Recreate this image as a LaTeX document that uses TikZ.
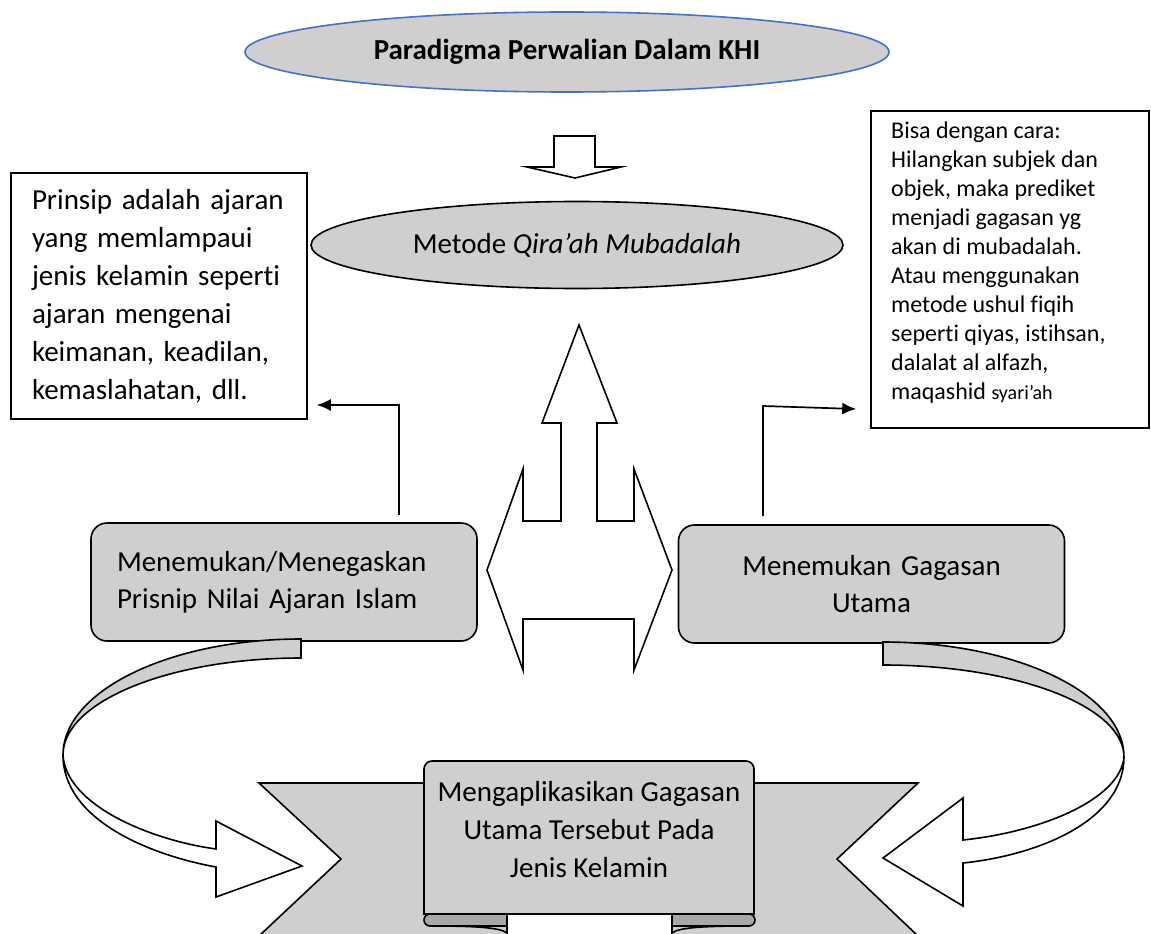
\documentclass[tikz,border=0pt]{standalone}
\usepackage{fontspec}
\setmainfont{Carlito}[Ligatures=NoCommon]
\usetikzlibrary{shapes.geometric,arrows.meta}
\definecolor{boxgray}{HTML}{D0CECE}
\definecolor{foldgray}{HTML}{A9A7A7}
\definecolor{wordblue}{HTML}{4472C4}
\tikzset{
  outl/.style={draw=black, line width=1.6pt, line join=miter},
  grayshape/.style={outl, fill=boxgray},
  whiteshape/.style={outl, fill=white},
  bigtext/.style={font=\fontsize{29}{38}\selectfont},
  smalltext/.style={font=\fontsize{24}{29}\selectfont},
  roundbox/.style={grayshape, rounded corners=16pt, minimum width=386pt, minimum height=118pt, font=\fontsize{29}{37}\selectfont},
  conn/.style={draw=black, line width=1.7pt, -{Latex[length=14pt,width=12pt]}},
}
\begin{document}
\begin{tikzpicture}[x=1pt,y=-1pt]
\useasboundingbox (0,0) rectangle (1151,934);
\clip (0,0) rectangle (1151,934);

% ---- bottom ribbon ----
\path[grayshape] (259,783) -- (507,783) -- (507,936) -- (259,936) -- (341,859) -- cycle;
\path[grayshape] (672,783) -- (918,783) -- (837,859) -- (918,936) -- (672,936) -- cycle;
\path[grayshape] (424,914) -- (424,769) arc[start angle=180,end angle=90,radius=8pt]
  -- (746,761) arc[start angle=90,end angle=0,radius=8pt] -- (754,914) -- cycle;
\path[outl, fill=foldgray] (507,914) -- (430,914) arc[start angle=90,end angle=270,radius=6pt]
  -- (507,926) -- cycle;
\path[outl, fill=foldgray] (672,914) -- (749,914) arc[start angle=90,end angle=-90,radius=6pt]
  -- (672,926) -- cycle;
\draw[outl] (430,926) .. controls (470,926) and (500,927) .. (507,933);
\draw[outl] (749,926) .. controls (709,926) and (679,927) .. (672,933);
\node[bigtext, align=center] (aplikasi) at (589,830)
  {Mengaplikasikan Gagasan\\Utama Tersebut Pada\\Jenis Kelamin};

% ---- text boxes ----
\node[outl, minimum width=296pt, minimum height=246pt, text width=254pt, inner xsep=21pt,
  align=left, bigtext] (prinsip) at (159,296)
  {Prinsip adalah ajaran\\yang memlampaui\\jenis kelamin seperti\\ajaran mengenai\\keimanan, keadilan,\\kemaslahatan, dll.};
\node[outl, minimum width=278pt, minimum height=317pt] (cara) at (1010,269.5) {};
\node[smalltext, align=left, anchor=west, inner sep=0pt] (caratext) at (891,262.5)
  {Bisa dengan cara:\\Hilangkan subjek dan\\objek, maka prediket\\menjadi gagasan yg\\akan di mubadalah.\\Atau menggunakan\\metode ushul fiqih\\seperti qiyas, istihsan,\\dalalat al alfazh,\\maqashid {\fontsize{20}{29}\selectfont syari’ah}};

% ---- rounded boxes ----
\node[roundbox, text width=334pt, inner xsep=26pt, align=left] (nilai) at (284,582)
  {Menemukan/Menegaskan\\Prisnip Nilai Ajaran Islam};
\node[roundbox, text width=334pt, inner xsep=25pt, align=center] (gagasan) at (871.5,584)
  {Menemukan Gagasan\\Utama};

% ---- connectors ----
\coordinate (lc) at (399,405);
\coordinate (rc) at (763,406);
\coordinate (rtipy) at (0,409);
\draw[conn] ([yshift=7pt]nilai.north -| lc) |- ([xshift=9pt]prinsip.east |- lc);
\draw[conn] ([yshift=8pt]gagasan.north -| rc) -- (rc) -- ([xshift=-14pt]cara.west |- rtipy);

% ---- curved arrows ----
\path[grayshape] (301,639) .. controls (169.6,639) and (63,691) .. (63,755)
  .. controls (63,701.5) and (169.6,658) .. (301,658) -- cycle;
\path[whiteshape] (63,755) .. controls (63,820) and (150,855) .. (216,867)
  -- (216,897) -- (302,866) -- (216,821) -- (216,849)
  .. controls (150,840) and (66,805) .. (63,755) -- cycle;
\path[grayshape] (883,642) .. controls (1016,642) and (1124,693.5) .. (1124,757)
  .. controls (1124,706.2) and (1016,665) .. (883,665) -- cycle;
\path[whiteshape] (1124,757) .. controls (1124,820) and (1040,855) .. (963,863)
  -- (963,906) -- (883,858) -- (963,798) -- (963,840)
  .. controls (1040,832) and (1120,800) .. (1124,757) -- cycle;

% ---- left-right-up arrow ----
\path[whiteshape] (579,325) -- (617,423) -- (597,423) -- (597,521) -- (634,521) -- (634,469)
  -- (672,570) -- (634,670) -- (634,619) -- (523,619) -- (523,670) -- (487,570)
  -- (523,469) -- (523,521) -- (561,521) -- (561,423) -- (542,423) -- cycle;

% ---- down arrow ----
\path[whiteshape] (554,136) -- (595,136) -- (595,167) -- (621,167) -- (575,178)
  -- (527,167) -- (554,167) -- cycle;

% ---- ellipses ----
\node[ellipse, draw=wordblue, line width=1.6pt, fill=boxgray, minimum width=644pt,
  minimum height=80pt, inner sep=0pt, font=\bfseries\fontsize{29}{35}\selectfont] (title) at (567,52)
  {Paradigma Perwalian Dalam KHI};
\node[ellipse, grayshape, minimum width=532pt, minimum height=87pt, inner sep=0pt,
  font=\fontsize{29}{35}\selectfont] (metode) at (577,245)
  {Metode \textit{Qira’ah Mubadalah}};
\end{tikzpicture}
\end{document}
